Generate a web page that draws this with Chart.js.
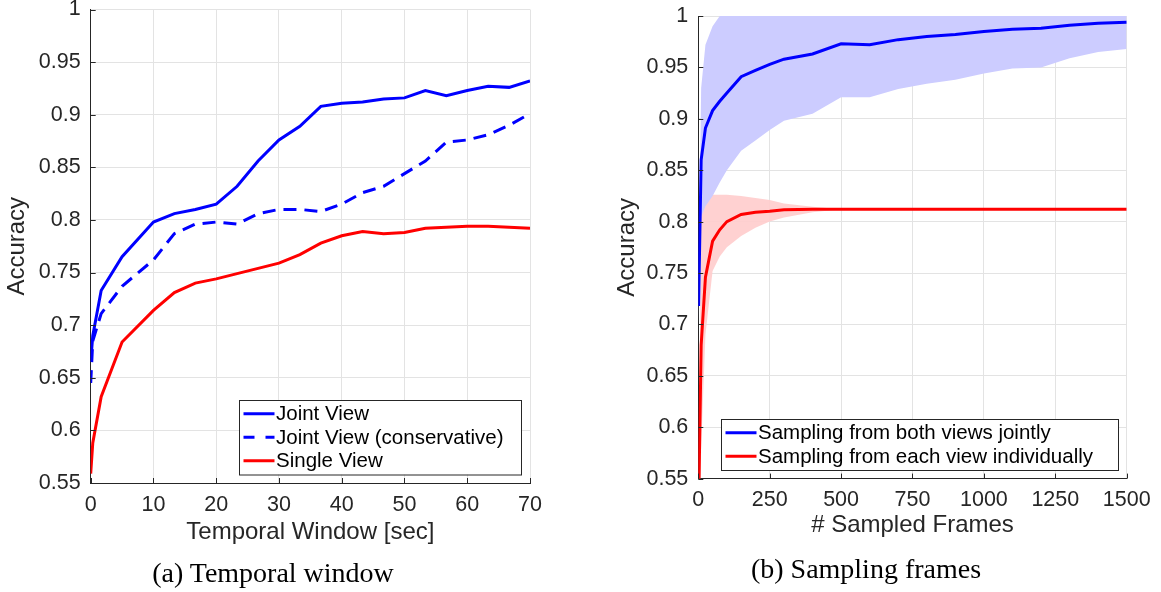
<!DOCTYPE html>
<html>
<head>
<meta charset="utf-8">
<script src="https://cdn.jsdelivr.net/npm/chart.js@4.4.0/dist/chart.umd.min.js"></script>
<style>
body { margin: 0; background: #fff; width: 1161px; height: 592px; position: relative; overflow: hidden; }
.panel { position: absolute; top: 0; width: 560px; height: 560px; }
.cap { position: absolute; font-family: "Liberation Serif", serif; font-size: 28px; color: #000;
       transform: translate(-50%, -50%); white-space: nowrap; }
</style>
</head>
<body>
<div class="panel" style="left:0"><canvas id="windowChart" width="560" height="560"></canvas></div>
<div class="panel" style="left:600px"><canvas id="framesChart" width="560" height="560"></canvas></div>
<div class="cap" style="left:273px;top:573px">(a) Temporal window</div>
<div class="cap" style="left:866px;top:569px">(b) Sampling frames</div>
<script>
// (a) temporal window
const windowSec = [0, 0.33, 1.67, 5, 10, 13.33, 16.67, 20, 23.33, 26.67, 30, 33.33, 36.67, 40, 43.33, 46.67, 50, 53.33, 56.67, 60, 63.33, 66.67, 70];
const jointView = [0.665, 0.69, 0.733, 0.765, 0.798, 0.806, 0.810, 0.815, 0.832, 0.856, 0.876, 0.889, 0.908, 0.911, 0.912, 0.915, 0.916, 0.923, 0.918, 0.923, 0.927, 0.926, 0.932];
const jointViewConservative = [0.645, 0.685, 0.711, 0.737, 0.762, 0.787, 0.796, 0.798, 0.796, 0.806, 0.810, 0.810, 0.808, 0.815, 0.826, 0.832, 0.844, 0.856, 0.874, 0.876, 0.881, 0.890, 0.901];
const singleView = [0.559, 0.588, 0.632, 0.684, 0.714, 0.731, 0.740, 0.744, 0.749, 0.754, 0.759, 0.767, 0.778, 0.785, 0.789, 0.787, 0.788, 0.792, 0.793, 0.794, 0.794, 0.793, 0.792];

// (b) sampling frames
const sampledFrames = [1, 10, 25, 50, 75, 100, 150, 200, 250, 300, 400, 500, 600, 700, 800, 900, 1000, 1100, 1200, 1300, 1400, 1500];
const bothViews = [0.718, 0.86, 0.891, 0.908, 0.917, 0.925, 0.941, 0.947, 0.953, 0.958, 0.963, 0.973, 0.972, 0.977, 0.980, 0.982, 0.985, 0.987, 0.988, 0.991, 0.993, 0.994];
const bothViewsUpper = [0.745, 0.93, 0.972, 0.99, 1, 1, 1, 1, 1, 1, 1, 1, 1, 1, 1, 1, 1, 1, 1, 1, 1, 1];
const bothViewsLower = [0.70, 0.805, 0.815, 0.825, 0.838, 0.85, 0.869, 0.879, 0.889, 0.898, 0.905, 0.921, 0.921, 0.929, 0.934, 0.938, 0.944, 0.949, 0.950, 0.959, 0.965, 0.968];
const eachView = [0.52, 0.68, 0.746, 0.781, 0.792, 0.800, 0.807, 0.809, 0.810, 0.8115, 0.812, 0.812, 0.812, 0.812, 0.812, 0.812, 0.812, 0.812, 0.812, 0.812, 0.812, 0.812];
const eachViewUpper = [0.56, 0.805, 0.822, 0.826, 0.826, 0.826, 0.825, 0.823, 0.821, 0.8175, 0.8145, 0.812, 0.812, 0.812, 0.812, 0.812, 0.812, 0.812, 0.812, 0.812, 0.812, 0.812];
const eachViewLower = [0.45, 0.58, 0.69, 0.752, 0.766, 0.775, 0.786, 0.794, 0.800, 0.804, 0.809, 0.812, 0.812, 0.812, 0.812, 0.812, 0.812, 0.812, 0.812, 0.812, 0.812, 0.812];

const AXIS = '#262626';
const GRID = '#e3e3e3';
const tickFont = { family: 'Liberation Sans', size: 21.5 };
const titleFont = { family: 'Liberation Sans', size: 24 };

function pts(xs, ys) {
    return xs.map((x, i) => ({ x: x, y: ys[i] }));
}

function line(label, xs, ys, color, dash) {
    return { label: label, data: pts(xs, ys), borderColor: color, backgroundColor: color,
             borderWidth: 3, borderDash: dash || [], pointRadius: 0, tension: 0, fill: false, order: 0 };
}

function band(xs, ys, color, fillTo) {
    return { label: '', isBand: true, data: pts(xs, ys), borderWidth: 0, borderColor: 'rgba(0,0,0,0)',
             backgroundColor: color, pointRadius: 0, tension: 0, fill: fillTo, order: 1 };
}

// matlab style ticks pointing into the axes
const innerTicks = {
    id: 'innerTicks',
    afterDraw(chart) {
        const { ctx, chartArea: a, scales: { x, y } } = chart;
        ctx.save();
        ctx.strokeStyle = AXIS;
        ctx.lineWidth = 1;
        ctx.beginPath();
        y.ticks.forEach(t => {
            const py = Math.round(y.getPixelForValue(t.value)) + 0.5;
            ctx.moveTo(a.left, py); ctx.lineTo(a.left + 5, py);
        });
        x.ticks.forEach(t => {
            const px = Math.round(x.getPixelForValue(t.value)) + 0.5;
            ctx.moveTo(px, a.bottom); ctx.lineTo(px, a.bottom - 5);
        });
        ctx.stroke();
        ctx.restore();
    }
};

const boxLegend = {
    id: 'boxLegend',
    afterDraw(chart, args, o) {
        const { ctx, chartArea: a } = chart;
        const items = chart.data.datasets.filter(d => !d.isBand);
        const rowH = 23.5;
        const h = rowH * items.length + 4;
        const x0 = Math.round(a.right - 9 - o.width), y0 = Math.round(a.bottom - 9 - h);
        ctx.save();
        ctx.fillStyle = '#fff';
        ctx.fillRect(x0, y0, o.width, h);
        ctx.strokeStyle = AXIS;
        ctx.lineWidth = 1;
        ctx.strokeRect(x0 + 0.5, y0 + 0.5, o.width, h);
        ctx.font = '20.5px "Liberation Sans"';
        ctx.textBaseline = 'middle';
        items.forEach((d, i) => {
            const cy = y0 + 2 + rowH * (i + 0.5);
            ctx.strokeStyle = d.borderColor;
            ctx.lineWidth = 3;
            ctx.setLineDash(d.borderDash.length ? [11, 11] : []);
            ctx.beginPath();
            ctx.moveTo(x0 + 4.5, cy); ctx.lineTo(x0 + 35.5, cy);
            ctx.stroke();
            ctx.fillStyle = '#000';
            ctx.fillText(d.label, x0 + 37, cy + 1);
        });
        ctx.restore();
    }
};

function scales(c) {
    return {
        x: {
            type: 'linear', min: c.xMin, max: c.xMax,
            ticks: { stepSize: c.xStep, color: AXIS, font: tickFont, padding: c.xTickPad, maxRotation: 0,
                     autoSkip: false, callback: v => String(v) },
            grid: { color: GRID, drawTicks: false },
            border: { color: AXIS, width: 1 },
            title: { display: true, text: c.xTitle, color: AXIS, font: titleFont, padding: { top: c.xTitlePad, bottom: c.xTitlePad } },
            afterFit: s => { s.height = c.xHeight; s.paddingLeft = 0; s.paddingRight = 0; }
        },
        y: {
            type: 'linear', min: 0.55, max: 1,
            ticks: { stepSize: 0.05, color: AXIS, font: tickFont, padding: 10,
                     callback: v => String(parseFloat(v.toFixed(2))) },
            grid: { color: GRID, drawTicks: false },
            border: { color: AXIS, width: 1 },
            title: { display: true, text: 'Accuracy', color: AXIS, font: titleFont, padding: { top: c.yTitlePad, bottom: c.yTitlePad } },
            afterFit: s => { s.width = c.yWidth; s.paddingTop = 0; s.paddingBottom = 0; }
        }
    };
}

new Chart(document.getElementById('windowChart'), {
    type: 'line',
    data: {
        datasets: [
            line('Joint View', windowSec, jointView, '#0000ff'),
            line('Joint View (conservative)', windowSec, jointViewConservative, '#0000ff', [13, 8]),
            line('Single View', windowSec, singleView, '#ff0000')
        ]
    },
    options: {
        responsive: false,
        animation: false,
        layout: { padding: { left: 0, right: 30, top: 9.5, bottom: 0 } },
        plugins: { legend: { display: false }, tooltip: { enabled: false }, boxLegend: { width: 282 } },
        scales: scales({ xMin: 0, xMax: 70, xStep: 10, xTitle: 'Temporal Window [sec]', xTickPad: 9,
                         xTitlePad: 13, xHeight: 77, yWidth: 90.7, yTitlePad: 3 })
    },
    plugins: [innerTicks, boxLegend]
});

new Chart(document.getElementById('framesChart'), {
    type: 'line',
    data: {
        datasets: [
            line('Sampling from both views jointly', sampledFrames, bothViews, '#0000ff'),
            line('Sampling from each view individually', sampledFrames, eachView, '#ff0000'),
            band(sampledFrames, bothViewsUpper, 'rgba(204,204,255,1)', '+1'),
            band(sampledFrames, bothViewsLower, 'rgba(0,0,0,0)', false),
            band(sampledFrames, eachViewUpper, 'rgba(255,204,204,0.9)', '+1'),
            band(sampledFrames, eachViewLower, 'rgba(0,0,0,0)', false)
        ]
    },
    options: {
        responsive: false,
        animation: false,
        layout: { padding: { left: 0, right: 33.3, top: 16, bottom: 0 } },
        plugins: { legend: { display: false }, tooltip: { enabled: false }, boxLegend: { width: 397 } },
        scales: scales({ xMin: 0, xMax: 1500, xStep: 250, xTitle: '# Sampled Frames', xTickPad: 9,
                         xTitlePad: 20, xHeight: 81.4, yWidth: 98.3, yTitlePad: 13 })
    },
    plugins: [innerTicks, boxLegend]
});
</script>
</body>
</html>
